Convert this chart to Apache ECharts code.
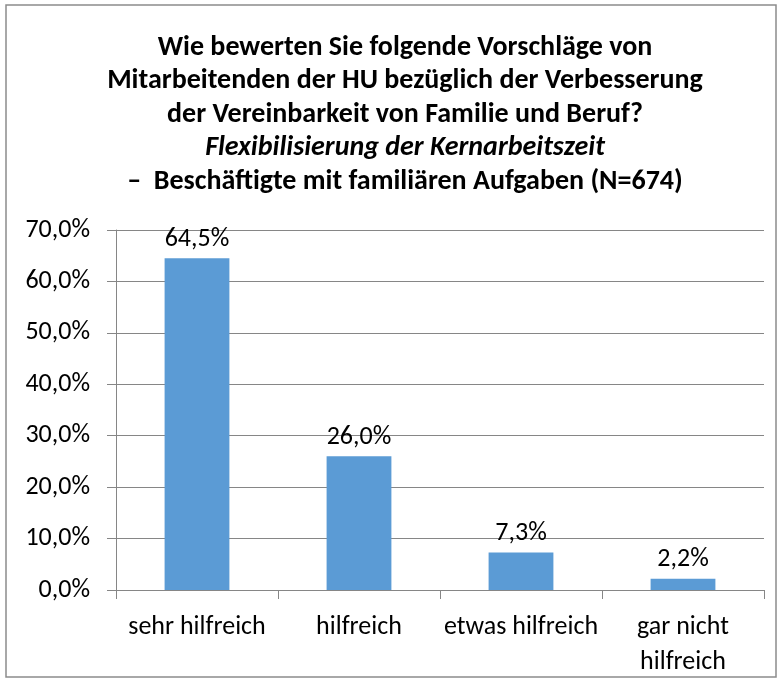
<!DOCTYPE html>
<html>
<head>
<meta charset="utf-8">
<script src="https://cdn.jsdelivr.net/npm/echarts@6/dist/echarts.min.js"></script>
<style>
  html, body { margin: 0; padding: 0; background: #fff; }
  #chart { width: 781px; height: 680px; }
</style>
</head>
<body>
<div id="chart"></div>
<script>
// Daten
const categories = ['sehr hilfreich', 'hilfreich', 'etwas hilfreich', 'gar nicht\nhilfreich'];
const values = [64.5, 26.0, 7.3, 2.2];
const yTicks = [0, 10, 20, 30, 40, 50, 60, 70];

const FONT = 'Carlito, Lato, "Open Sans", sans-serif';

let chart = echarts.init(document.getElementById('chart'));

chart.setOption({
    backgroundColor: '#fff',
    textStyle: { fontFamily: FONT },
    title: {
        left: 400,
        textAlign: 'center',
        top: 26,
        text: '{b|Wie bewerten Sie folgende Vorschläge von}\n' +
              '{b|Mitarbeitenden der HU bezüglich der Verbesserung}\n' +
              '{b|der Vereinbarkeit von Familie und Beruf?}\n' +
              '{i|Flexibilisierung der Kernarbeitszeit}\n' +
              '{b|–  Beschäftigte mit familiären Aufgaben (N=674)}',
        textStyle: {
            rich: {
                b: { fontFamily: FONT, fontSize: 28, fontWeight: 'bold', color: '#000', lineHeight: 33.5 },
                i: { fontFamily: FONT, fontSize: 28, fontWeight: 'bold', fontStyle: 'italic', color: '#000', lineHeight: 33.5 }
            }
        }
    },
    graphic: [{
        type: 'rect',
        shape: { x: 6, y: 5, width: 770, height: 672 },
        style: { fill: 'none', stroke: '#8c8c8c', lineWidth: 1.5 },
        z: -1
    }],
    grid: { left: 116, right: 17, top: 230, bottom: 90 },
    xAxis: {
        type: 'category',
        data: categories,
        axisLine: { lineStyle: { color: '#868686' } },
        axisTick: { show: true, length: 9, lineStyle: { color: '#868686' } },
        axisLabel: { fontFamily: FONT, fontSize: 26, color: '#000', margin: 20, lineHeight: 35, interval: 0 }
    },
    yAxis: {
        type: 'value',
        min: 0,
        max: 70,
        interval: 10,
        axisLine: { show: true, lineStyle: { color: '#868686' } },
        axisTick: { show: true, length: 9, lineStyle: { color: '#868686' } },
        splitLine: { lineStyle: { color: '#868686' } },
        axisLabel: {
            fontFamily: FONT, fontSize: 26, color: '#000', margin: 26,
            formatter: v => yTicks.includes(v) ? v.toFixed(1).replace('.', ',') + '%' : ''
        }
    },
    series: [{
        type: 'bar',
        data: values,
        barWidth: '40%',
        itemStyle: { color: '#5B9BD5' },
        label: {
            show: true,
            position: 'top',
            distance: 6,
            fontFamily: FONT,
            fontSize: 26,
            color: '#000',
            formatter: p => p.value.toFixed(1).replace('.', ',') + '%'
        }
    }]
});
</script>
</body>
</html>
